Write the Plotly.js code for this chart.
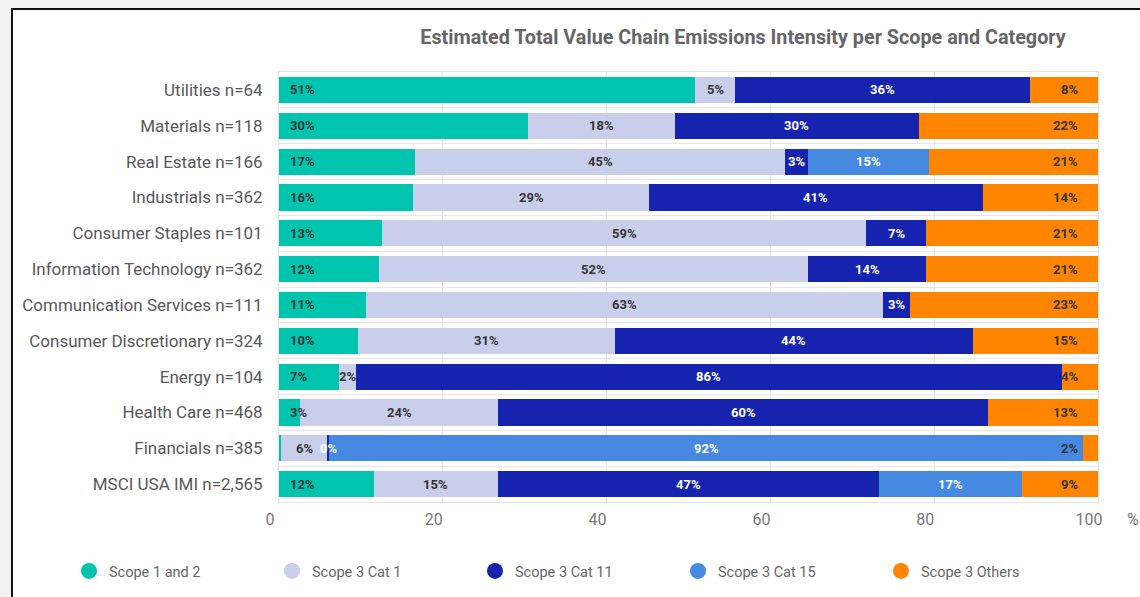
<!DOCTYPE html>
<html>
<head>
<meta charset="utf-8">
<script src="https://cdn.plot.ly/plotly-3.0.1.min.js"></script>
<style>
  html, body { margin: 0; padding: 0; width: 1140px; height: 597px; overflow: hidden; background: #f2f2f2; }
  #frame { position: absolute; left: 11px; top: 8px; width: 1129px; height: 589px; background: #ffffff;
           border-left: 2px solid #111; border-top: 2px solid #111; box-sizing: border-box; }
  #chart { position: absolute; left: 0; top: 0; width: 1140px; height: 597px; }
</style>
</head>
<body>
<div id="frame"></div>
<div id="chart"></div>
<script>
const categories = ['Utilities n=64', 'Materials n=118', 'Real Estate n=166', 'Industrials n=362',
  'Consumer Staples n=101', 'Information Technology n=362', 'Communication Services n=111',
  'Consumer Discretionary n=324', 'Energy n=104', 'Health Care n=468', 'Financials n=385',
  'MSCI USA IMI n=2,565'];

const scope12 = [50.8, 30.4, 16.6, 16.4, 12.6, 12.2, 10.6, 9.6, 7.3, 2.6, 0.3, 11.6];
const scope3Cat1 = [4.9, 17.9, 45.2, 28.8, 59.1, 52.4, 63.1, 31.4, 2.1, 24.2, 5.6, 15.1];
const scope3Cat11 = [36.0, 29.8, 2.8, 40.7, 7.3, 14.4, 3.3, 43.7, 86.2, 59.8, 0.2, 46.6];
const scope3Cat15 = [null, null, 14.8, null, null, null, null, null, null, null, 92.1, 17.4];
const scope3Others = [8.3, 21.9, 20.6, 14.1, 21.0, 21.0, 23.0, 15.3, 4.4, 13.4, 1.8, 9.3];

const seriesNames = ['Scope 1 and 2', 'Scope 3 Cat 1', 'Scope 3 Cat 11', 'Scope 3 Cat 15', 'Scope 3 Others'];
const seriesValues = [scope12, scope3Cat1, scope3Cat11, scope3Cat15, scope3Others];
const seriesColors = ['#00c5ae', '#c9cfea', '#1623ae', '#4589e0', '#ff8400'];
const labelColors = ['#353535', '#353535', '#ffffff', '#ffffff', '#353535'];
const xTicks = [0, 20, 40, 60, 80, 100];

const FONT = 'Roboto, "Noto Sans", sans-serif';
const X_MAX = 100;

const traces = [];
seriesNames.forEach((name, i) => {
  traces.push({
    type: 'bar', orientation: 'h', name: name,
    x: seriesValues[i], y: categories,
    marker: { color: seriesColors[i], line: { width: 0 } },
    showlegend: false, hoverinfo: 'x+y+name'
  });
});
// legend entries with round symbols, one legend box each so they sit on one row
seriesNames.forEach((name, i) => {
  traces.push({
    type: 'scatter', mode: 'markers', name: name,
    x: [null], y: [null],
    marker: { color: seriesColors[i], size: 16, symbol: 'circle' },
    showlegend: true, hoverinfo: 'skip',
    legend: i === 0 ? 'legend' : 'legend' + (i + 1)
  });
});

// value labels built from the data
const annotations = [];
categories.forEach((cat, j) => {
  let start = 0;
  seriesValues.forEach((vals, i) => {
    const v = vals[j];
    if (v === null || v === undefined) return;
    const end = start + v;
    let x, anchor, shift;
    if (i === 0) { x = start; anchor = 'left'; shift = 9; }
    else if (i === seriesValues.length - 1) { x = Math.min(end, X_MAX); anchor = 'right'; shift = -18; }
    else { x = (start + end) / 2; anchor = 'center'; shift = 0; }
    const show = !(i === 0 && v < 1);
    if (show) {
      annotations.push({
        x: x, y: cat, xref: 'x', yref: 'y', xanchor: anchor, yanchor: 'middle', xshift: shift,
        text: Math.round(v) + '%', showarrow: false,
        font: { family: FONT, size: 13, color: labelColors[i], weight: 'bold' }
      });
    }
    start = end;
  });
});

const L = 279, R = 42, T = 72, B = 95, W = 1140, H = 597;
const PW = W - L - R, PH = H - T - B;
annotations.push({
  x: (1133 - L) / PW, y: (H - B - 519) / PH, xref: 'paper', yref: 'paper', text: '%', showarrow: false,
  xanchor: 'center', yanchor: 'middle', font: { family: FONT, size: 16, color: '#777777' }
});

const layout = {
  width: W, height: H,
  paper_bgcolor: 'rgba(0,0,0,0)', plot_bgcolor: '#ffffff',
  margin: { l: L, r: R, t: T, b: B },
  barmode: 'stack', bargap: 0.27,
  font: { family: FONT },
  title: {
    text: 'Estimated Total Value Chain Emissions Intensity per Scope and Category',
    x: 743 / W, xanchor: 'center', y: 1 - 37 / H, yanchor: 'middle',
    xref: 'container', yref: 'container',
    font: { family: FONT, size: 19.8, color: '#666666', weight: 'bold' }
  },
  xaxis: {
    range: [0, X_MAX], tickvals: xTicks, ticktext: xTicks.map(String),
    showgrid: true, gridcolor: '#e6e6e6', gridwidth: 1, zeroline: false,
    showline: true, linecolor: '#e3e3e3', linewidth: 1, mirror: true,
    ticks: '', ticklabelstandoff: 3, ticklabelshift: -9,
    tickfont: { family: FONT, size: 16, color: '#777777' },
    fixedrange: true
  },
  yaxis: {
    type: 'category', categoryorder: 'array', categoryarray: categories,
    autorange: 'reversed', tickson: 'boundaries',
    showgrid: true, gridcolor: '#e6e6e6', gridwidth: 1,
    showline: true, linecolor: '#e3e3e3', linewidth: 1, mirror: true,
    ticks: '', ticklabelstandoff: 12,
    tickfont: { family: FONT, size: 17, color: '#585858' },
    fixedrange: true
  },
  annotations: annotations,
  showlegend: true
};

const legendX0 = 69, legendStep = 203, legendY = 571;
seriesNames.forEach((name, i) => {
  const key = i === 0 ? 'legend' : 'legend' + (i + 1);
  layout[key] = {
    orientation: 'h', xref: 'container', yref: 'container',
    x: (legendX0 + i * legendStep) / W, y: 1 - legendY / H, xanchor: 'left', yanchor: 'middle',
    font: { family: FONT, size: 14.5, color: '#666666' },
    itemwidth: 30, bgcolor: 'rgba(0,0,0,0)', traceorder: 'normal'
  };
});

Plotly.newPlot('chart', traces, layout, { displayModeBar: false, staticPlot: true });
</script>
</body>
</html>
